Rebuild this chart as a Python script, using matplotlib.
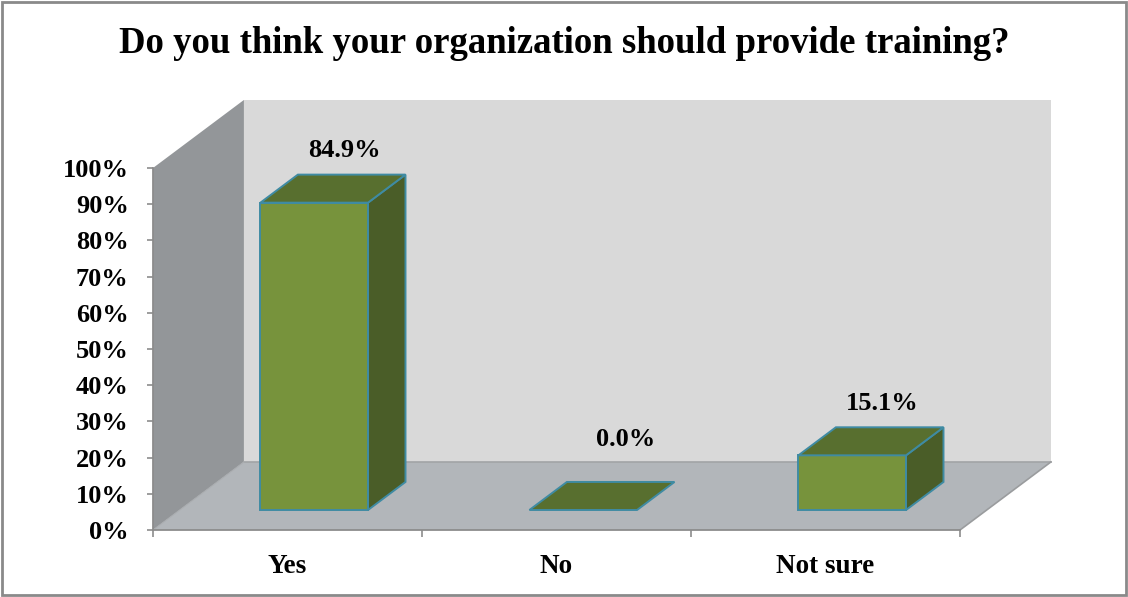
"""
3D-style column chart: should the organization provide training?
"""
import matplotlib
matplotlib.use("Agg")
import matplotlib.pyplot as plt
from matplotlib.patches import Polygon, Rectangle

categories = ["Yes", "No", "Not sure"]
values = [84.9, 0.0, 15.1]
value_labels = ["84.9%", "0.0%", "15.1%"]
y_ticks = [0, 10, 20, 30, 40, 50, 60, 70, 80, 90, 100]
title = "Do you think your organization should provide training?"

# depth direction of the fake 3D box, in data units per unit of depth
DX = 0.338
DY = 18.8
BAR_W = 0.40
BAR_D0, BAR_D1 = 0.294, 0.706

FRONT = "#77933c"
TOP = "#586f2f"
SIDE = "#4a5d28"
EDGE = "#3f8ba3"

plt.rcParams["font.family"] = ["Liberation Serif", "DejaVu Serif"]
plt.rcParams["font.weight"] = "bold"

fig = plt.figure(figsize=(11.28, 5.97), dpi=100)
W, H = 1128, 597
ax = fig.add_axes([153 / W, (H - 530) / H, 807 / W, 362 / H])
ax.set_xlim(0, 3)
ax.set_ylim(0, 100)
ax.patch.set_visible(False)


def proj(x, y, d):
    return (x + d * DX, y + d * DY)


def face(pts, color, edge=None, lw=0.0, z=1):
    poly = Polygon([proj(*p) for p in pts], closed=True, facecolor=color,
                   edgecolor=edge if edge else color, linewidth=lw,
                   clip_on=False, zorder=z, joinstyle="miter")
    ax.add_patch(poly)


n = len(categories)
# walls and floor
face([(0, 0, 1), (n, 0, 1), (n, 100, 1), (0, 100, 1)], "#d9d9d9", z=0.5)
face([(0, 0, 0), (0, 0, 1), (0, 100, 1), (0, 100, 0)], "#939699", z=0.6)
face([(0, 0, 0), (n, 0, 0), (n, 0, 1), (0, 0, 1)], "#b2b6ba", z=0.7)
ax.plot(*zip(proj(0, 0, 1), proj(n, 0, 1)), color="#a2a4a6", lw=1.2,
        clip_on=False, zorder=0.8)
ax.plot(*zip(proj(n, 0, 0), proj(n, 0, 1)), color="#9a9c9e", lw=1.2,
        clip_on=False, zorder=0.8)
ax.plot(*zip(proj(0, 0, 0), proj(0, 0, 1)), color="#a9acaf", lw=0.8,
        clip_on=False, zorder=0.8)

# bars
for i, v in enumerate(values):
    x0 = i + 0.5 - BAR_W / 2
    x1 = i + 0.5 + BAR_W / 2
    a, b = BAR_D0, BAR_D1
    if v > 0:
        face([(x0, 0, a), (x1, 0, a), (x1, v, a), (x0, v, a)], FRONT, EDGE, 1.4, 3)
        face([(x1, 0, a), (x1, 0, b), (x1, v, b), (x1, v, a)], SIDE, EDGE, 1.4, 3)
    face([(x0, v, a), (x1, v, a), (x1, v, b), (x0, v, b)], TOP, EDGE, 1.4, 3.1)

    cx, cy = proj(i + 0.5, v, 0.5)
    nudge = (24, 18) if v == 0 else (11, 0)
    ax.annotate(value_labels[i], (cx, cy), xytext=(nudge[0], 38 + nudge[1]),
                textcoords="offset pixels", ha="center", va="center",
                fontsize=19, fontweight="bold", annotation_clip=False, zorder=5)

# axes
for s in ["top", "right"]:
    ax.spines[s].set_visible(False)
for s in ["left", "bottom"]:
    ax.spines[s].set_color("#8c8c8c")
    ax.spines[s].set_linewidth(1.3)
    ax.spines[s].set_zorder(2)

ax.set_yticks(y_ticks)
ax.set_yticklabels([f"{t}%" for t in y_ticks])
ax.tick_params(axis="y", direction="out", length=4.5, width=1.2,
               color="#8c8c8c", pad=13, labelsize=19)
ax.set_xticks(range(n + 1))
ax.set_xticklabels([])
ax.set_xticks([i + 0.5 for i in range(n)], minor=True)
ax.set_xticklabels(categories, minor=True)
ax.tick_params(axis="x", which="major", direction="out", length=5, width=1.2,
               color="#8c8c8c")
ax.tick_params(axis="x", which="minor", length=0, pad=17, labelsize=19.5)

fig.text(0.5, 1 - 53 / H, title, ha="center", va="baseline",
         fontsize=26.5, fontweight="bold")

fig.patches.append(Rectangle((2 / W, 2 / H), 1 - 4 / W, 1 - 4 / H,
                             transform=fig.transFigure, fill=False,
                             edgecolor="#8a8a8a", linewidth=2))

fig.savefig("out.png", dpi=100)
